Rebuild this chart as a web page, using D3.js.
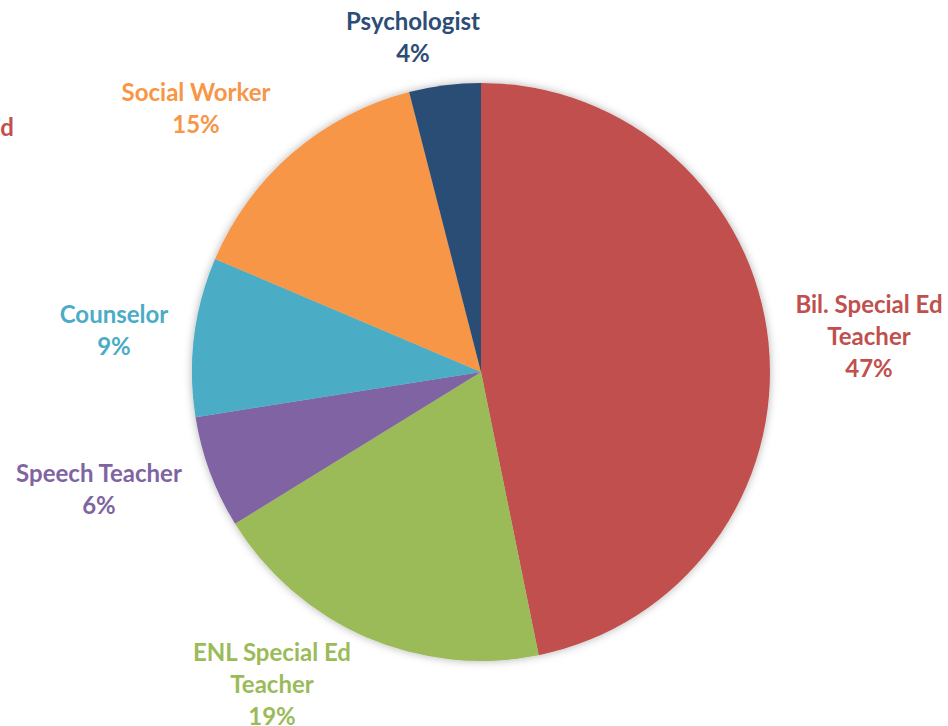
<!DOCTYPE html>
<html>
<head>
<meta charset="utf-8">
<script src="https://cdn.jsdelivr.net/npm/d3@7"></script>
<style>
  body { margin: 0; background: #fff; }
  text { font-family: Lato, "Open Sans", sans-serif; font-weight: bold; }
</style>
</head>
<body>
<div id="chart"></div>
<script>
// Staff roles and their share (percent), clockwise from 12 o'clock
var roles = ["Bil. Special Ed Teacher", "ENL Special Ed Teacher", "Speech Teacher", "Counselor", "Social Worker", "Psychologist"];
var shares = [46.8, 19.4, 6.3, 8.9, 14.6, 4.0];
var labelLines = [["Bil. Special Ed", "Teacher"], ["ENL Special Ed", "Teacher"], ["Speech Teacher"], ["Counselor"], ["Social Worker"], ["Psychologist"]];
var colors = ["#C0504D", "#9BBB59", "#8064A2", "#4BACC6", "#F79646", "#2C4D75"];

var width = 948, height = 726;
var cx = 481, cy = 372, radius = 289;

// where each label block sits, relative to pie centre (middle of text block)
var labelOffset = [[388, -35], [-209, 313], [-382, 118], [-367, -41], [-285, -263], [-68, -334]];

var svg = d3.select("#chart").append("svg")
    .attr("width", width)
    .attr("height", height);

var defs = svg.append("defs");
var f = defs.append("filter").attr("id", "shadow")
    .attr("x", "-10%").attr("y", "-10%").attr("width", "120%").attr("height", "120%");
f.append("feDropShadow")
    .attr("dx", 0).attr("dy", 0)
    .attr("stdDeviation", 4)
    .attr("flood-color", "#000")
    .attr("flood-opacity", 0.3);

var g = svg.append("g").attr("transform", "translate(" + cx + "," + cy + ")");

var pie = d3.pie().sort(null).value(function (d) { return d; });
var arc = d3.arc().innerRadius(0).outerRadius(radius);

g.append("g").attr("filter", "url(#shadow)")
    .selectAll("path")
    .data(pie(shares))
    .enter()
    .append("path")
    .attr("d", arc)
    .style("fill", function (d, i) { return colors[i]; });

var lineH = 32;
var labels = g.selectAll(".lbl")
    .data(pie(shares))
    .enter()
    .append("text")
    .attr("class", "lbl")
    .attr("text-anchor", "middle")
    .style("font-size", "24px")
    .style("fill", function (d, i) { return colors[i]; })
    .each(function (d, i) {
        var lines = labelLines[i].concat([Math.round(d.data) + "%"]);
        var t = d3.select(this);
        var top = labelOffset[i][1] - (lines.length - 1) * lineH / 2;
        lines.forEach(function (l, k) {
            t.append("tspan")
                .attr("x", labelOffset[i][0])
                .attr("y", top + k * lineH)
                .attr("dy", "0.35em")
                .text(l);
        });
    });

// clipped fragment of a label from outside the visible area
svg.append("text")
    .attr("x", 14).attr("y", 128)
    .attr("dy", "0.35em")
    .attr("text-anchor", "end")
    .style("font-size", "24px")
    .style("fill", colors[0])
    .text("Bil. Special Ed");
</script>
</body>
</html>
